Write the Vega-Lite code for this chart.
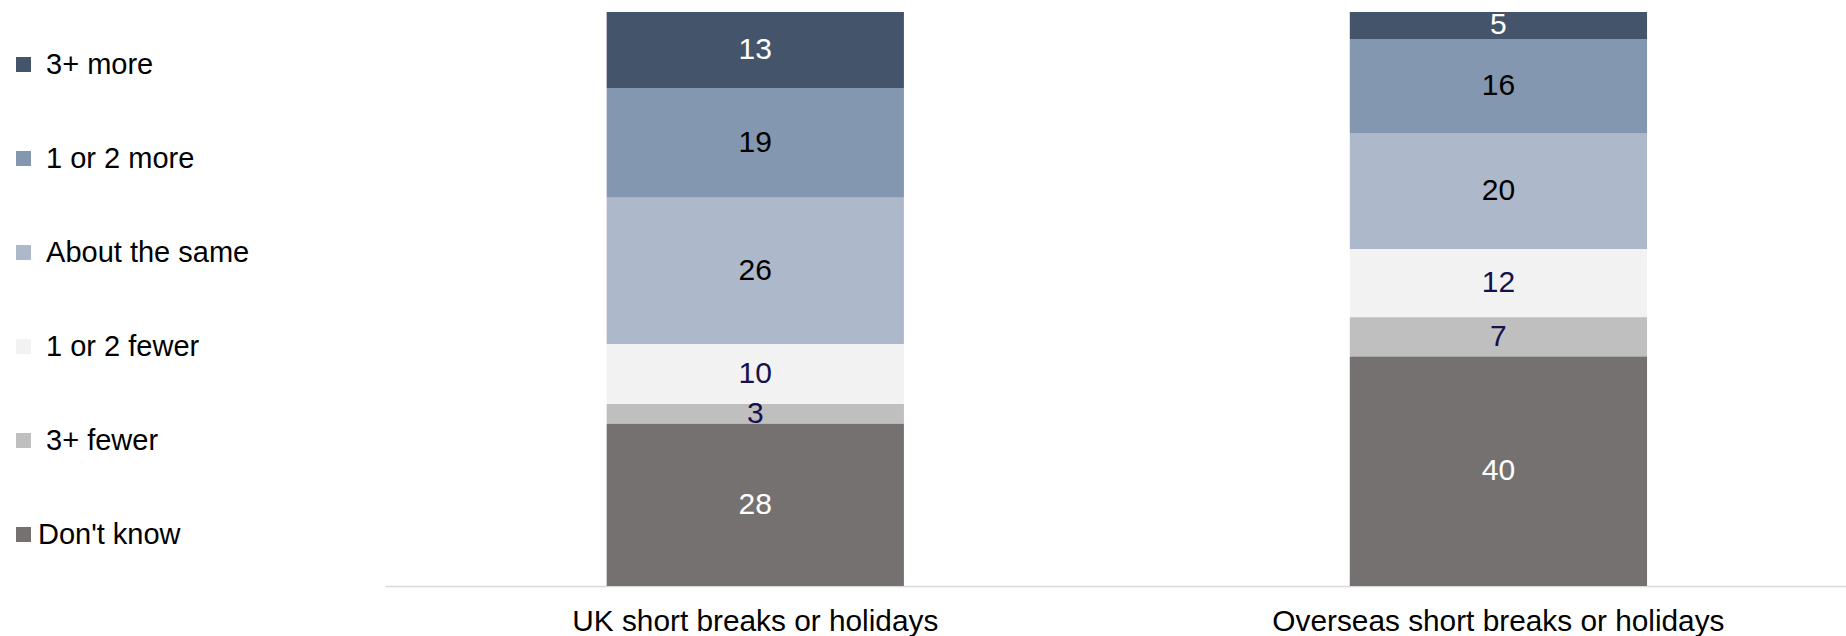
{
  "$schema": "https://vega.github.io/schema/vega-lite/v6.json",
  "width": 1461,
  "height": 574,
  "autosize": {"type": "none"},
  "padding": {"left": 385, "top": 12, "right": 0, "bottom": 50},
  "background": "white",
  "config": {
    "view": {"stroke": null},
    "font": "Liberation Sans"
  },
  "data": {
    "values": [
      {"group": "UK short breaks or holidays", "category": "\u200b\u00a03+ more", "value": 13.25},
      {"group": "UK short breaks or holidays", "category": "\u200b\u00a01 or 2 more", "value": 19.1},
      {"group": "UK short breaks or holidays", "category": "\u200b\u00a0About the same", "value": 25.55},
      {"group": "UK short breaks or holidays", "category": "\u200b\u00a01 or 2 fewer", "value": 10.4},
      {"group": "UK short breaks or holidays", "category": "\u200b\u00a03+ fewer", "value": 3.45},
      {"group": "UK short breaks or holidays", "category": "Don't know", "value": 28.25},
      {"group": "Overseas short breaks or holidays", "category": "\u200b\u00a03+ more", "value": 4.7},
      {"group": "Overseas short breaks or holidays", "category": "\u200b\u00a01 or 2 more", "value": 16.4},
      {"group": "Overseas short breaks or holidays", "category": "\u200b\u00a0About the same", "value": 20.2},
      {"group": "Overseas short breaks or holidays", "category": "\u200b\u00a01 or 2 fewer", "value": 11.9},
      {"group": "Overseas short breaks or holidays", "category": "\u200b\u00a03+ fewer", "value": 6.8},
      {"group": "Overseas short breaks or holidays", "category": "Don't know", "value": 40.0}
    ]
  },
  "transform": [
    {"calculate": "indexof(['Don\\'t know', '\u200b\u00a03+ fewer', '\u200b\u00a01 or 2 fewer', '\u200b\u00a0About the same', '\u200b\u00a01 or 2 more', '\u200b\u00a03+ more'], datum.category)", "as": "stackOrder"}
  ],
  "encoding": {
    "x": {
      "field": "group",
      "type": "nominal",
      "sort": ["UK short breaks or holidays", "Overseas short breaks or holidays"],
      "scale": {"paddingInner": 0.6, "paddingOuter": 0.283, "align": 0.527},
      "axis": {
        "title": null,
        "labelAngle": 0,
        "labelFontSize": 29.8,
        "labelColor": "#000000",
        "labelPadding": 20,
        "labelLimit": 1000,
        "ticks": false,
        "domainColor": "#D9D9D9",
        "domainWidth": 1.7,
        "grid": false
      }
    },
    "order": {"field": "stackOrder", "type": "quantitative", "sort": "ascending"}
  },
  "layer": [
    {
      "mark": {"type": "bar"},
      "encoding": {
        "y": {"field": "value", "type": "quantitative", "stack": "normalize", "axis": null},
        "color": {
          "field": "category",
          "type": "nominal",
          "scale": {
            "domain": ["\u200b\u00a03+ more", "\u200b\u00a01 or 2 more", "\u200b\u00a0About the same", "\u200b\u00a01 or 2 fewer", "\u200b\u00a03+ fewer", "Don't know"],
            "range": ["#44546A", "#8497B0", "#ADB9CA", "#F2F2F2", "#BFBFBF", "#767171"]
          },
          "legend": {
            "title": null,
            "orient": "none",
            "legendX": -376,
            "legendY": 38,
            "padding": 0,
            "symbolType": "square",
            "symbolSize": 225,
            "symbolStrokeWidth": 0,
            "labelFontSize": 29,
            "labelColor": "#000000",
            "labelOffset": 0,
            "labelLimit": 400,
            "rowPadding": 64
          }
        }
      }
    },
    {
      "mark": {"type": "text", "fontSize": 30, "baseline": "middle"},
      "encoding": {
        "y": {"field": "value", "type": "quantitative", "stack": "normalize", "bandPosition": 0.5},
        "text": {"field": "value", "type": "quantitative", "format": ".0f"},
        "detail": {"field": "category"},
        "color": {
          "field": "category",
          "type": "nominal",
          "scale": {
            "domain": ["\u200b\u00a03+ more", "\u200b\u00a01 or 2 more", "\u200b\u00a0About the same", "\u200b\u00a01 or 2 fewer", "\u200b\u00a03+ fewer", "Don't know"],
            "range": ["#FFFFFF", "#000000", "#000000", "#16114D", "#16114D", "#FFFFFF"]
          },
          "legend": null
        }
      }
    }
  ],
  "resolve": {"scale": {"color": "independent"}, "legend": {"color": "independent"}}
}
